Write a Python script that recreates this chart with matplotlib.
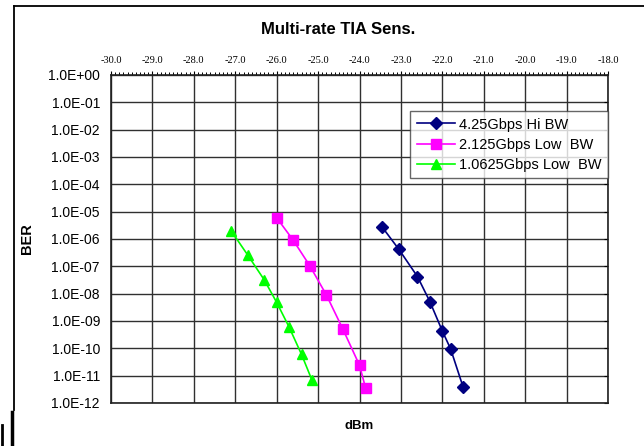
import numpy as np
import matplotlib
matplotlib.use('Agg')
import matplotlib.pyplot as plt
from matplotlib.ticker import FixedLocator, FuncFormatter, MultipleLocator
from matplotlib.lines import Line2D

plt.rcParams['font.family'] = ['Liberation Sans', 'DejaVu Sans']

# data
hi_dbm = [-23.45, -23.05, -22.6, -22.3, -22.0, -21.8, -21.5]
hi_ber = [2.7e-6, 4.2e-7, 4.2e-8, 5.1e-9, 4.3e-10, 9.5e-11, 3.9e-12]

mid_dbm = [-26.0, -25.6, -25.2, -24.8, -24.4, -24.0, -23.85]
mid_ber = [6e-6, 9e-7, 1.05e-7, 9e-9, 5e-10, 2.4e-11, 3.4e-12]

lo_dbm = [-27.1, -26.7, -26.3, -26.0, -25.7, -25.4, -25.15]
lo_ber = [2e-6, 2.6e-7, 3.2e-8, 4.8e-9, 6e-10, 6e-11, 7e-12]

labels = ['4.25Gbps Hi BW', '2.125Gbps Low  BW', '1.0625Gbps Low  BW']
x_ticks = np.arange(-30, -17, 1)
y_ticks = [10.0 ** e for e in range(0, -13, -1)]

W, H = 644, 446
fig = plt.figure(figsize=(W / 100, H / 100), dpi=100)
ax = fig.add_axes([111 / W, 1 - 403 / H, (608 - 111) / W, (403 - 75) / H])

ax.plot(hi_dbm, hi_ber, color='#000080', marker='D', markersize=6, lw=1.2, label=labels[0])
ax.plot(mid_dbm, mid_ber, color='#ff00ff', marker='s', markersize=6.5, lw=1.2, label=labels[1])
ax.plot(lo_dbm, lo_ber, color='#00ff00', marker='^', markersize=7.5, lw=1.2, label=labels[2])

ax.set_yscale('log')
ax.set_xlim(-30, -18)
ax.set_ylim(1e-12, 1)
ax.yaxis.set_major_locator(FixedLocator(y_ticks))
ax.yaxis.set_minor_locator(FixedLocator([]))
ax.yaxis.set_major_formatter(FuncFormatter(lambda v, p: '%.1E' % v))
ax.xaxis.set_major_locator(FixedLocator(x_ticks))
ax.xaxis.set_minor_locator(MultipleLocator(0.1))
ax.xaxis.set_major_formatter(FuncFormatter(lambda v, p: '%.1f' % v))
ax.xaxis.tick_top()

ax.tick_params(axis='x', which='major', top=True, bottom=False, direction='out',
               length=3, width=0.8, pad=4, labelsize=7.5)
ax.tick_params(axis='x', which='minor', top=True, bottom=False, direction='out',
               length=2.5, width=0.7)
for t in ax.get_xticklabels():
    t.set_family(['Liberation Serif', 'DejaVu Serif'])
ax.tick_params(axis='y', which='major', left=False, right=True, direction='in',
               length=3, labelsize=10, pad=8)

ax.grid(True, which='major', color='#303030', lw=1.0)
ax.set_axisbelow(True)
for s in ax.spines.values():
    s.set_color('#202020')
    s.set_linewidth(1.2)

ax.set_ylabel('BER', fontsize=10.5, fontweight='bold', labelpad=10)
ax.set_xlabel('dBm', fontsize=9.5, fontweight='bold', labelpad=12)

fig.text(338 / W, 1 - 30 / H, 'Multi-rate TIA Sens.', ha='center', va='center',
         fontsize=12, fontweight='bold')

leg = ax.legend(loc='upper right', bbox_to_anchor=(1.0, 1 - (111 - 75) / (403 - 75)),
                fontsize=10.5, frameon=True, fancybox=False, borderpad=0.45,
                labelspacing=0.42, handlelength=2.6, handletextpad=0.3,
                borderaxespad=0)
leg.get_frame().set_edgecolor('#404040')
leg.get_frame().set_linewidth(1.0)

# outer chart frame
fig.add_artist(Line2D([14 / W, 1.0], [1 - 6 / H, 1 - 6 / H], color='black', lw=1.3))
fig.add_artist(Line2D([14 / W, 14 / W], [1 - 6 / H, 1 - 410 / H], color='black', lw=1.3))
fig.add_artist(Line2D([12.5 / W, 12.5 / W], [1 - 412 / H, 0], color='black', lw=2.5))
fig.add_artist(Line2D([2 / W, 2 / W], [1 - 425 / H, 0], color='black', lw=2))

fig.savefig('out.png', dpi=100)
